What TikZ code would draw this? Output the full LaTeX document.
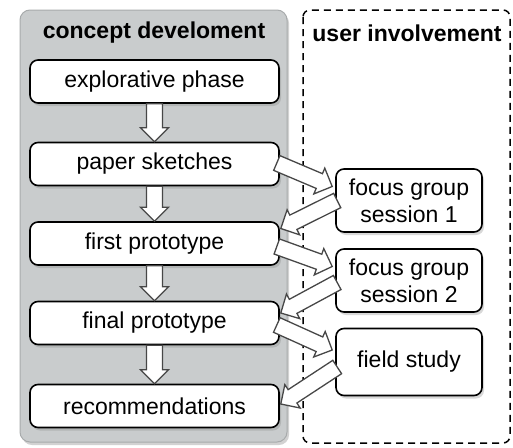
\documentclass[tikz,border=0pt]{standalone}
\usepackage{fontspec}
\setmainfont{Liberation Sans}
\usepackage{tikz}
\usetikzlibrary{calc, shadows}
\definecolor{PanelGrey} {HTML}{C9CCCD}
\definecolor{PanelEdge} {HTML}{A8ABAC}
\definecolor{ArrowEdge} {HTML}{474747}

% block arrow from #1 to #2 (tip at #2)
\newcommand{\blockarrow}[2]{%
  \coordinate (hb) at ($(#2)!14pt!(#1)$);
  \filldraw[arrowbody] ($(#1)!8pt!90:(#2)$) -- ($(hb)!8pt!90:(#2)$) -- ($(hb)!14pt!90:(#2)$) -- (#2)
    -- ($(hb)!14pt!-90:(#2)$) -- ($(hb)!8pt!-90:(#2)$) -- ($(#1)!8pt!-90:(#2)$) -- cycle;}

\begin{document}
\begin{tikzpicture}[x=1pt, y=-1pt, font=\fontsize{23}{27}\selectfont,
    stagebox/.style={draw=black, line width=1.6pt, fill=white, rounded corners=8pt,
      drop shadow={shadow xshift=2pt, shadow yshift=-3pt, opacity=0.3}},
    arrowbody/.style={fill=white, draw=ArrowEdge, line width=1.3pt, line join=miter},
    title/.style={font=\fontsize{23}{27}\selectfont\bfseries}]
  \fill[white] (0,0) rectangle (513,447);
  \useasboundingbox (0,0) rectangle (513,447);
  % Panels
  \fill[PanelGrey, draw=PanelEdge, line width=1pt, rounded corners=10pt,
    drop shadow={shadow xshift=2pt, shadow yshift=-3pt, opacity=0.35}] (20,10) rectangle (287,442);
  \draw[black, line width=1.5pt, dash pattern=on 7pt off 5pt, rounded corners=7pt] (303,10) rectangle (510,443);
  \node[title] (concept) at (154,33) {concept develoment};
  \node[title] (users) at (407,33) {user involvement};
  % Concept stages
  \node[stagebox, minimum width=249pt, minimum height=43pt] (explore) at (154.5,81.5) {explorative phase};
  \node[stagebox, minimum width=249pt, minimum height=43pt] (paper) at (154.5,164) {paper sketches};
  \node[stagebox, minimum width=249pt, minimum height=43pt] (first) at (154.5,243.5) {first prototype};
  \node[stagebox, minimum width=249pt, minimum height=43pt] (final) at (154.5,323) {final prototype};
  \node[stagebox, minimum width=249pt, minimum height=43pt] (recs) at (154.5,406) {recommendations};
  % User sessions
  \node[stagebox, minimum width=146pt, minimum height=63pt, align=center] (fg1) at (409,200.5) {focus group\\session 1};
  \node[stagebox, minimum width=146pt, minimum height=63pt, align=center] (fg2) at (409,280.5) {focus group\\session 2};
  \node[stagebox, minimum width=146pt, minimum height=67pt] (field) at (409,362) {field study};
  % Vertical flow
  \blockarrow{explore.south}{paper.north}
  \blockarrow{paper.south}{first.north}
  \blockarrow{first.south}{final.north}
  \blockarrow{final.south}{recs.north}
  % Exchange with users
  \coordinate (ps-out)  at ($(paper.east)+(-3,-1)$);
  \coordinate (fg1-in)  at ($(fg1.west)+(-3,-14)$);
  \coordinate (fg1-out) at ($(fg1.west)+(2,0)$);
  \coordinate (fp-in)   at ($(first.east)+(1,-15)$);
  \coordinate (fp-out)  at ($(first.east)+(-3,3)$);
  \coordinate (fg2-in)  at ($(fg2.west)+(-3,-14)$);
  \coordinate (fg2-out) at ($(fg2.west)+(2,2)$);
  \coordinate (lp-in)   at ($(final.east)+(1,-10)$);
  \coordinate (lp-out)  at ($(final.east)+(-3,2)$);
  \coordinate (fs-in)   at ($(field.west)+(-3,-12)$);
  \coordinate (fs-out)  at ($(field.west)+(2,5)$);
  \coordinate (rc-in)   at ($(recs.east)+(1,-2)$);
  \blockarrow{ps-out}{fg1-in}
  \blockarrow{fg1-out}{fp-in}
  \blockarrow{fp-out}{fg2-in}
  \blockarrow{fg2-out}{lp-in}
  \blockarrow{lp-out}{fs-in}
  \blockarrow{fs-out}{rc-in}
\end{tikzpicture}
\end{document}
